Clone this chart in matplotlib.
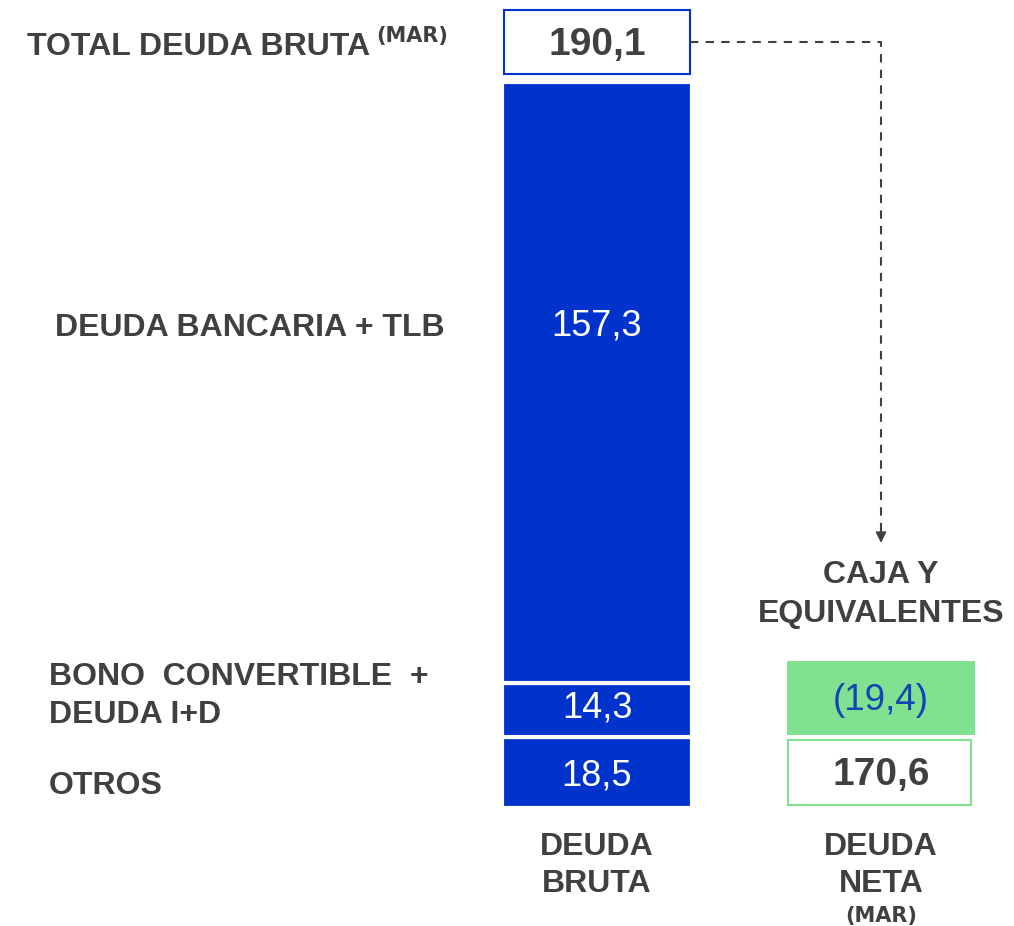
import matplotlib
matplotlib.use("Agg")
import matplotlib.pyplot as plt
from matplotlib.patches import Rectangle

plt.rcParams['font.family'] = ['Liberation Sans', 'DejaVu Sans']

# --- data ---
categories = ["DEUDA\nBRUTA", "DEUDA\nNETA"]
segment_names = ["OTROS", "BONO  CONVERTIBLE  +\nDEUDA I+D", "DEUDA BANCARIA + TLB"]
bruta_values = [18.5, 14.3, 157.3]
total_bruta = 190.1
caja = 19.4
neta = 170.6

BLUE = "#0033CC"
GREEN = "#80E290"
GREY = "#404040"
CAJA_TXT = "#1343B5"


def fmt(v):
    return f"{v:.1f}".replace(".", ",")


fig = plt.figure(figsize=(10.14, 9.26), dpi=100)
ax = fig.add_axes([0, 0, 1, 1])
ax.axis("off")

# layout: 284 px per category step, 3.82 px per unit, y=0 at pixel row 808
px_x, px_y = 284.0, 3.82
ax.set_xlim(-597 / px_x, (1014 - 597) / px_x)
ax.set_ylim(-(926 - 808) / px_y, 808 / px_y)
W = 0.655
yax = ax.get_yaxis_transform()

# stacked gross debt bar
bottom = 0
for v in bruta_values:
    ax.bar(0, v, bottom=bottom, width=W + 0.012, color=BLUE,
           edgecolor="white", linewidth=3)
    bottom += v

# total box above the bar
ax.add_patch(Rectangle((-W / 2, total_bruta + 2), W, 16.8, facecolor="white",
                       edgecolor=BLUE, linewidth=1.5))
ax.text(0, 197.1, fmt(total_bruta), ha="center", va="baseline",
        fontsize=28, fontweight="bold", color=GREY)

# cash bar + net debt box
ax.bar(1, caja, bottom=19.1, width=W + 0.005, color=GREEN, linewidth=0)
ax.add_patch(Rectangle((1 - W / 2, 0.8), W - 0.01, 17.0, facecolor="white",
                       edgecolor=GREEN, linewidth=1.5))
ax.text(1, 25.7, f"({fmt(caja)})", ha="center", va="baseline",
        fontsize=26.5, color=CAJA_TXT)
ax.text(1, 6.0, fmt(neta), ha="center", va="baseline",
        fontsize=28, fontweight="bold", color=GREY)

# values inside the segments
seg_y = [6.0, 23.8, 123.7]
for v, y in zip(bruta_values, seg_y):
    ax.text(0, y, fmt(v), ha="center", va="baseline", fontsize=26, color="white")

# left-hand labels
lab_kw = dict(ha="left", va="baseline", fontsize=23, fontweight="bold",
              color=GREY, transform=yax)
mar_kw = dict(va="baseline", fontsize=15, fontweight="bold", color=GREY,
              family="DejaVu Sans")
ax.text(27 / 1014, 197.1, "TOTAL DEUDA BRUTA", **lab_kw)
ax.text(376 / 1014, 200.5, "(MAR)", ha="left", transform=yax, **mar_kw)
ax.text(55 / 1014, 123.6, segment_names[2], **lab_kw)
bono1, bono2 = segment_names[1].split("\n")
ax.text(49 / 1014, 32.2, bono1, **lab_kw)
ax.text(49 / 1014, 22.3, bono2, **lab_kw)
ax.text(49 / 1014, 3.7, segment_names[0], **lab_kw)

# category labels under the bars
cat_kw = dict(ha="center", va="baseline", fontsize=23, fontweight="bold", color=GREY)
for i, c in enumerate(categories):
    l1, l2 = c.split("\n")
    ax.text(i, -12.3, l1, **cat_kw)
    ax.text(i, -22.0, l2, **cat_kw)
ax.text(1, -29.8, "(MAR)", ha="center", **mar_kw)

ax.text(1, 58.9, "CAJA Y", **cat_kw)
ax.text(1, 48.7, "EQUIVALENTES", **cat_kw)

# dashed connector with arrow
ax.plot([W / 2, 1, 1], [200.5, 200.5, 72.5], color=GREY, lw=1.5,
        dashes=(4, 3.5))
ax.annotate("", xy=(1, 69.4), xytext=(1, 73.5),
            arrowprops=dict(arrowstyle="-|>", color=GREY, lw=1.2,
                            mutation_scale=16, shrinkA=0, shrinkB=0))

fig.savefig("out.png", dpi=100)
